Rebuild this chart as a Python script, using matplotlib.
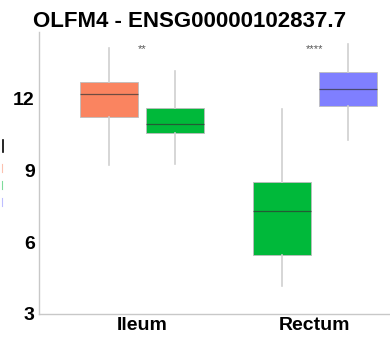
import matplotlib
matplotlib.use("Agg")
import matplotlib.pyplot as plt
from matplotlib.lines import Line2D

plt.rcParams['font.family'] = ['Liberation Sans', 'DejaVu Sans']

# expression summary per tissue and group (whisker low, q1, median, q3, whisker high)
tissues = ["Ileum", "Rectum"]
box_groups = [["orange", "green"], ["green", "blue"]]
whislo = [[9.23, 9.28], [4.17, 10.28]]
q1 = [[11.24, 10.57], [5.47, 11.70]]
med = [[12.20, 10.95], [7.31, 12.41]]
q3 = [[12.71, 11.62], [8.52, 13.13]]
whishi = [[14.13, 13.17], [11.58, 14.30]]
signif = ["**", "****"]
yticks = [3, 6, 9, 12]

colors = {"orange": "#FA8460", "green": "#00B93A", "blue": "#7F7FFF"}

fig = plt.figure(figsize=(3.9, 3.4), dpi=100)
ax = fig.add_axes([0.1, 0.0765, 0.9, 0.8295])

offset = 0.19
width = 0.335
for i, t in enumerate(tissues):
    for j, g in enumerate(box_groups[i]):
        pos = i + (j - 0.5) * 2 * offset
        stats = [dict(whislo=whislo[i][j], q1=q1[i][j], med=med[i][j],
                      q3=q3[i][j], whishi=whishi[i][j], fliers=[])]
        ax.bxp(stats, positions=[pos], widths=width, patch_artist=True,
               showcaps=False,
               boxprops=dict(facecolor=colors[g], edgecolor="#bdbdbd", linewidth=0.6),
               medianprops=dict(color="#333333", linewidth=0.9, alpha=0.7),
               whiskerprops=dict(color="#d0d0d0", linewidth=1.2),
               manage_ticks=False, zorder=2)
    ax.text(i, 14.1, signif[i], ha="center", va="center", fontsize=8,
            color="#555555")

ax.set_xlim(-0.595, 1.434)
ax.set_ylim(3, 14.8)
ax.set_xticks(range(len(tissues)))
ax.set_xticklabels(tissues, fontsize=14, fontweight="bold")
ax.set_yticks(yticks)
ax.set_yticklabels([str(v) for v in yticks], fontsize=14, fontweight="bold")
ax.tick_params(length=0, pad=3)
ax.tick_params(axis="x", pad=2)
for s in ["top", "right"]:
    ax.spines[s].set_visible(False)
for s in ["left", "bottom"]:
    ax.spines[s].set_color("#c8c8c8")
    ax.spines[s].set_linewidth(1.0)

fig.text(33 / 390, 1 - 27 / 340, "OLFM4 - ENSG00000102837.7", fontsize=16,
         fontweight="bold", ha="left", va="baseline")

# clipped y label and legend keys at the left edge
fig.add_artist(Line2D([3 / 390, 3 / 390], [1 - 140 / 340, 1 - 152 / 340],
                      color="black", linewidth=1.2))
for k, c in enumerate(["orange", "green", "blue"]):
    y0 = 1 - (164 + k * 17) / 340
    fig.add_artist(Line2D([2 / 390, 2 / 390], [y0, y0 - 8 / 340],
                          color=colors[c], linewidth=0.8, alpha=0.5))

fig.savefig("out.png", dpi=100)
